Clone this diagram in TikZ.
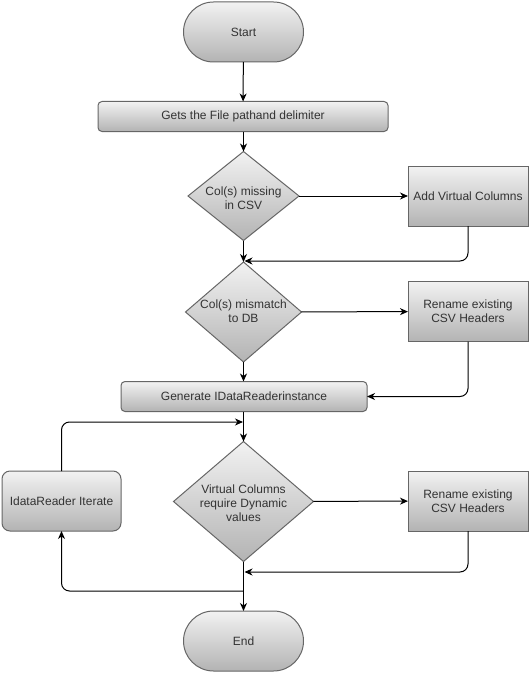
\documentclass[tikz,border=0pt]{standalone}
\usepackage{fontspec}
\setmainfont{Liberation Sans}
\usetikzlibrary{shapes.geometric,arrows.meta}
\definecolor{grtop}{HTML}{F2F2F2}
\definecolor{grbot}{HTML}{B3B3B3}
\definecolor{strk}{HTML}{666666}
\definecolor{txt}{HTML}{333333}
\tikzset{
  base/.style={draw=strk,line width=1pt,top color=grtop,bottom color=grbot,
    inner sep=0pt,outer sep=0pt,text=txt,align=center,
    font=\fontsize{12}{14}\selectfont},
  term/.style={base,rectangle,rounded corners=30pt,minimum width=120pt,minimum height=60pt},
  procr/.style={base,rectangle,rounded corners=4pt,minimum height=30pt},
  procs/.style={base,rectangle,minimum width=120pt,minimum height=60pt},
  proci/.style={base,rectangle,rounded corners=8pt,minimum width=119pt,minimum height=60pt},
  dec/.style={base,diamond,aspect=1},
  dtext/.style={text=txt,align=center,font=\fontsize{12}{14}\selectfont,inner sep=0pt},
  conn/.style={draw=black,line width=1pt,-{Stealth[length=8pt,width=7pt,inset=2.5pt]}},
  line/.style={draw=black,line width=1pt},
}
\begin{document}
\begin{tikzpicture}[x=1pt,y=-1pt]
\useasboundingbox (0,0) rectangle (531,674);
\node[term] (start) at (243.5,32) {Start};
\node[procr,minimum width=290pt] (gets) at (243,116.5) {Gets the File pathand delimiter};
\node[dec,minimum width=111pt,minimum height=89pt] (d1) at (243.5,196) {};
\node[dtext] (d1t) at (243.5,198) {Col(s) missing\\in CSV};
\node[procs] (avc) at (468,196) {Add Virtual Columns};
\node[dec,minimum width=116pt,minimum height=100pt] (d2) at (243.5,312) {};
\node[dtext] (d2t) at (243.5,311) {Col(s) mismatch\\to DB};
\node[procs] (ren1) at (468,311.5) {Rename existing\\CSV Headers};
\node[procr,minimum width=246pt] (gen) at (244,396.5) {Generate IDataReaderinstance};
\node[dec,minimum width=140pt,minimum height=120pt] (d3) at (243.5,501.5) {};
\node[dtext] (d3t) at (243.5,503) {Virtual Columns\\require Dynamic\\values};
\node[procs] (ren2) at (468,501) {Rename existing\\CSV Headers};
\node[proci] (iter) at (61.5,501) {IdataReader Iterate};
\node[term] (end) at (243.5,641) {End};
\coordinate (j1) at (244.5,261);
\coordinate (j2) at (243,422);
\coordinate (j3) at (244.5,572);
\coordinate (j4) at (243.5,591);
\draw[conn] (start) -- (gets);
\draw[conn] (gets.south -| d1.north) -- (d1.north);
\draw[conn] (d1) -- (avc);
\draw[conn] (d1) -- (d2);
\draw[conn,rounded corners=8pt] (avc.south) |- (j1);
\draw[conn] (d2) -- (ren1);
\draw[conn] (d2.south) -- (d2.south |- gen.north);
\draw[conn,rounded corners=8pt] (ren1.south) |- (gen.east);
\draw[conn] (gen.south -| d3.north) -- (d3.north);
\draw[conn,rounded corners=8pt] (iter.north) |- (j2);
\draw[conn] (d3) -- (ren2);
\draw[conn,rounded corners=8pt] (ren2.south) |- (j3);
\draw[conn] (d3) -- (end);
\draw[conn,rounded corners=8pt] (j4) -| (iter.south);
\end{tikzpicture}
\end{document}
